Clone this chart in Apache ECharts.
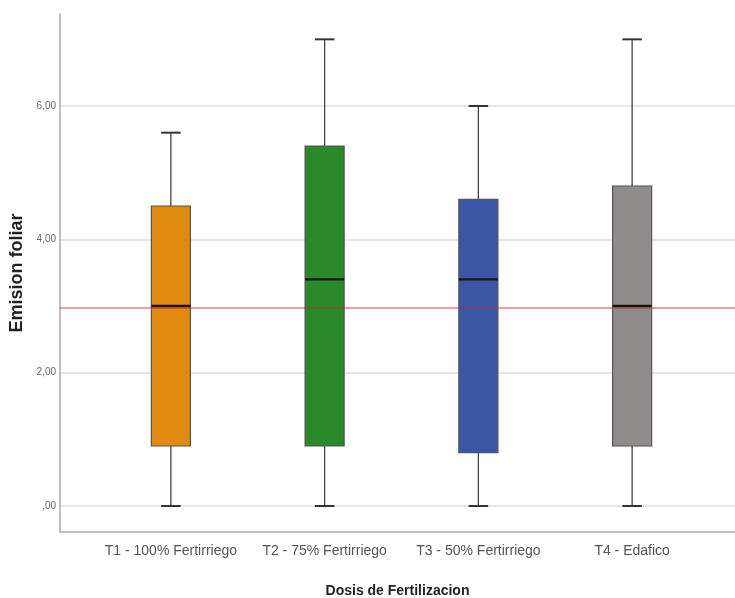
<!DOCTYPE html>
<html>
<head>
<meta charset="utf-8">
<script src="https://cdn.jsdelivr.net/npm/echarts@6/dist/echarts.min.js"></script>
<style>
  html, body { margin: 0; padding: 0; background: #fff; }
  #chart { width: 735px; height: 598px; }
</style>
</head>
<body>
<div id="chart"></div>
<script>
// Treatments on the x axis
const categories = ['T1 - 100% Fertirriego', 'T2 - 75% Fertirriego', 'T3 - 50% Fertirriego', 'T4 - Edafico'];
// Box statistics per treatment
const whiskerLow = [0, 0, 0, 0];
const q1 = [0.9, 0.9, 0.8, 0.9];
const medians = [3.0, 3.4, 3.4, 3.0];
const q3 = [4.5, 5.4, 4.6, 4.8];
const whiskerHigh = [5.6, 7.0, 6.0, 7.0];
const boxColors = ['#e08a10', '#2a8a2a', '#3c56a6', '#918c8c'];
// Reference line value
const referenceValue = 2.98;
// Y axis ticks and their labels
const yTicks = [0, 2, 4, 6];
const yTickLabels = [',00', '2,00', '4,00', '6,00'];

const yMin = -0.39, yMax = 7.38;
const FONT = '"Liberation Sans", Arial, sans-serif';

const boxData = categories.map((c, i) => [i, whiskerLow[i], q1[i], medians[i], q3[i], whiskerHigh[i]]);

function renderBox(params, api) {
  const i = api.value(0);
  const band = api.size([1, 0])[0];
  const bw = band * 0.254;
  const cap = bw * 0.5;
  const pLow = api.coord([i, api.value(1)]);
  const pQ1 = api.coord([i, api.value(2)]);
  const pMed = api.coord([i, api.value(3)]);
  const pQ3 = api.coord([i, api.value(4)]);
  const pHigh = api.coord([i, api.value(5)]);
  const x = pQ1[0];
  const wStyle = { stroke: '#444', lineWidth: 1.3 };
  return {
    type: 'group',
    children: [
      { type: 'line', shape: { x1: x, y1: pQ3[1], x2: x, y2: pHigh[1] }, style: wStyle },
      { type: 'line', shape: { x1: x, y1: pQ1[1], x2: x, y2: pLow[1] }, style: wStyle },
      { type: 'line', shape: { x1: x - cap / 2, y1: pHigh[1], x2: x + cap / 2, y2: pHigh[1] }, style: { stroke: '#333', lineWidth: 2 } },
      { type: 'line', shape: { x1: x - cap / 2, y1: pLow[1], x2: x + cap / 2, y2: pLow[1] }, style: { stroke: '#333', lineWidth: 2 } },
      { type: 'rect', shape: { x: x - bw / 2, y: pQ3[1], width: bw, height: pQ1[1] - pQ3[1] },
        style: { fill: boxColors[i], stroke: '#555', lineWidth: 1.2 } },
      { type: 'line', shape: { x1: x - bw / 2, y1: pMed[1], x2: x + bw / 2, y2: pMed[1] }, style: { stroke: '#151515', lineWidth: 2.4 } }
    ]
  };
}

const chart = echarts.init(document.getElementById('chart'), null, { renderer: 'canvas' });
chart.setOption({
  backgroundColor: '#ffffff',
  animation: false,
  grid: [
    { left: 60, right: 0, top: 14, bottom: 66, containLabel: false, outerBoundsMode: 'none' },
    { left: 94, right: 26, top: 14, bottom: 66, containLabel: false, outerBoundsMode: 'none' }
  ],
  xAxis: [
    {
      gridIndex: 0, type: 'value', min: 0, max: 1,
      axisLine: { show: true, onZero: false, lineStyle: { color: '#aaaaaa', width: 1.5 } },
      axisTick: { show: false }, axisLabel: { show: false }, splitLine: { show: false },
      name: 'Dosis de Fertilizacion', nameLocation: 'middle', nameGap: 52,
      nameTextStyle: { fontFamily: FONT, fontSize: 14, fontWeight: 'bold', color: '#222' }
    },
    {
      gridIndex: 1, type: 'category', data: categories,
      axisLine: { show: false }, axisTick: { show: false },
      axisLabel: { interval: 0, hideOverlap: false, fontFamily: FONT, fontSize: 14, color: '#555', margin: 12 }
    }
  ],
  yAxis: [
    {
      gridIndex: 0, type: 'value', min: yMin, max: yMax,
      axisLine: { show: true, onZero: false, lineStyle: { color: '#aaaaaa', width: 1.5 } },
      axisTick: { show: false, customValues: yTicks },
      axisLabel: {
        customValues: yTicks, fontFamily: FONT, fontSize: 10, color: '#666', margin: 4,
        formatter: v => yTickLabels[yTicks.indexOf(v)]
      },
      splitLine: { show: true, lineStyle: { color: '#dcdcdc', width: 1.5 } },
      name: 'Emision foliar', nameLocation: 'middle', nameGap: 33, nameRotate: 90,
      nameTextStyle: { fontFamily: FONT, fontSize: 18, fontWeight: 'bold', color: '#222' }
    },
    {
      gridIndex: 1, type: 'value', min: yMin, max: yMax, show: false
    }
  ],
  series: [
    {
      type: 'line', xAxisIndex: 0, yAxisIndex: 0, data: [], silent: true,
      markLine: {
        silent: true, symbol: 'none', label: { show: false },
        lineStyle: { color: 'rgba(200,40,40,0.6)', width: 1.5, type: 'solid' },
        data: [{ yAxis: referenceValue }],
        z: 10
      },
      z: 10
    },
    {
      type: 'custom', xAxisIndex: 1, yAxisIndex: 1,
      renderItem: renderBox, data: boxData, z: 5,
      encode: { x: 0, y: [1, 2, 3, 4, 5] }
    }
  ]
});
</script>
</body>
</html>
